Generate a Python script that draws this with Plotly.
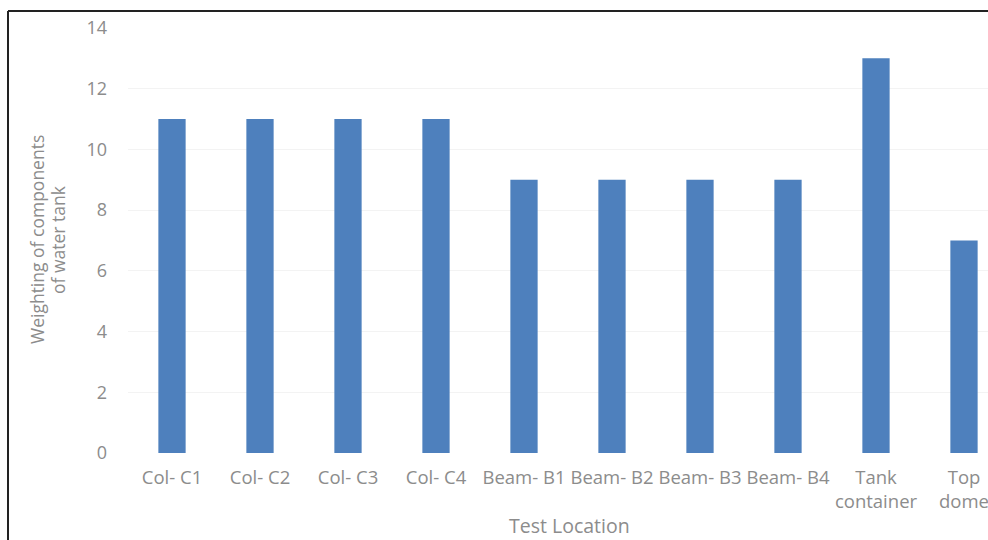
import plotly.graph_objects as go

categories = ["Col- C1", "Col- C2", "Col- C3", "Col- C4", "Beam- B1", "Beam- B2",
              "Beam- B3", "Beam- B4", "Tank<br>container", "Top<br>dome"]
values = [11, 11, 11, 11, 9, 9, 9, 9, 13, 7]
y_ticks = [0, 2, 4, 6, 8, 10, 12, 14]
x_title = "Test Location"
y_title_lines = ["Weighting of components", "of water tank"]

W, H = 988, 540
L, R, T, B = 128, 0, 28, 87
pw = W - L - R
ph = H - T - B

n = len(categories)
step_px = 88.0
x_hi = -0.5 + pw / step_px

def px_x(px):
    return (px - L) / pw

def px_y(py):
    return (H - B - py) / ph

fig = go.Figure()
fig.add_trace(go.Bar(
    x=list(range(n)), y=values,
    marker=dict(color="#4e80bd", line=dict(width=0)),
    width=0.31,
))

font_col = "#8c8c8c"
FONT = "Open Sans, Lato, sans-serif"
fig.update_layout(
    width=W, height=H,
    margin=dict(l=L, r=R, t=T, b=B),
    paper_bgcolor="white", plot_bgcolor="white",
    showlegend=False,
    font=dict(family=FONT, size=18, color=font_col),
    xaxis=dict(
        range=[-0.5, x_hi],
        tickmode="array", tickvals=list(range(n)), ticktext=categories,
        tickangle=0, showgrid=False, showline=False, zeroline=False,
        ticks="", ticklabelstandoff=11, ticklabeloverflow="allow",
        tickfont=dict(family=FONT, size=18.5, color=font_col),
    ),
    yaxis=dict(
        range=[0, 14], tickmode="array", tickvals=y_ticks,
        showgrid=True, gridcolor="#f3f3f3", gridwidth=1,
        zeroline=False, showline=False, ticks="", ticklabelstandoff=20,
        tickfont=dict(family=FONT, size=18, color=font_col),
    ),
)

# axis titles
fig.add_annotation(text=x_title, xref="paper", yref="paper",
                   x=px_x(569), y=px_y(525), xanchor="center", yanchor="middle",
                   showarrow=False, font=dict(family=FONT, size=19.5, color=font_col))
for xp, line in zip([37, 58], y_title_lines):
    fig.add_annotation(text=line, xref="paper", yref="paper",
                       x=px_x(xp), y=px_y(240), xanchor="center", yanchor="middle",
                       textangle=-90, showarrow=False,
                       font=dict(family=FONT, size=17.5, color=font_col))

# frame lines (image border)
fig.add_shape(type="line", xref="paper", yref="paper",
              x0=px_x(8), x1=px_x(1000), y0=px_y(11), y1=px_y(11),
              line=dict(color="#222222", width=2))
fig.add_shape(type="line", xref="paper", yref="paper",
              x0=px_x(8), x1=px_x(8), y0=px_y(11), y1=px_y(545),
              line=dict(color="#222222", width=2))

fig.write_html("out.html")
